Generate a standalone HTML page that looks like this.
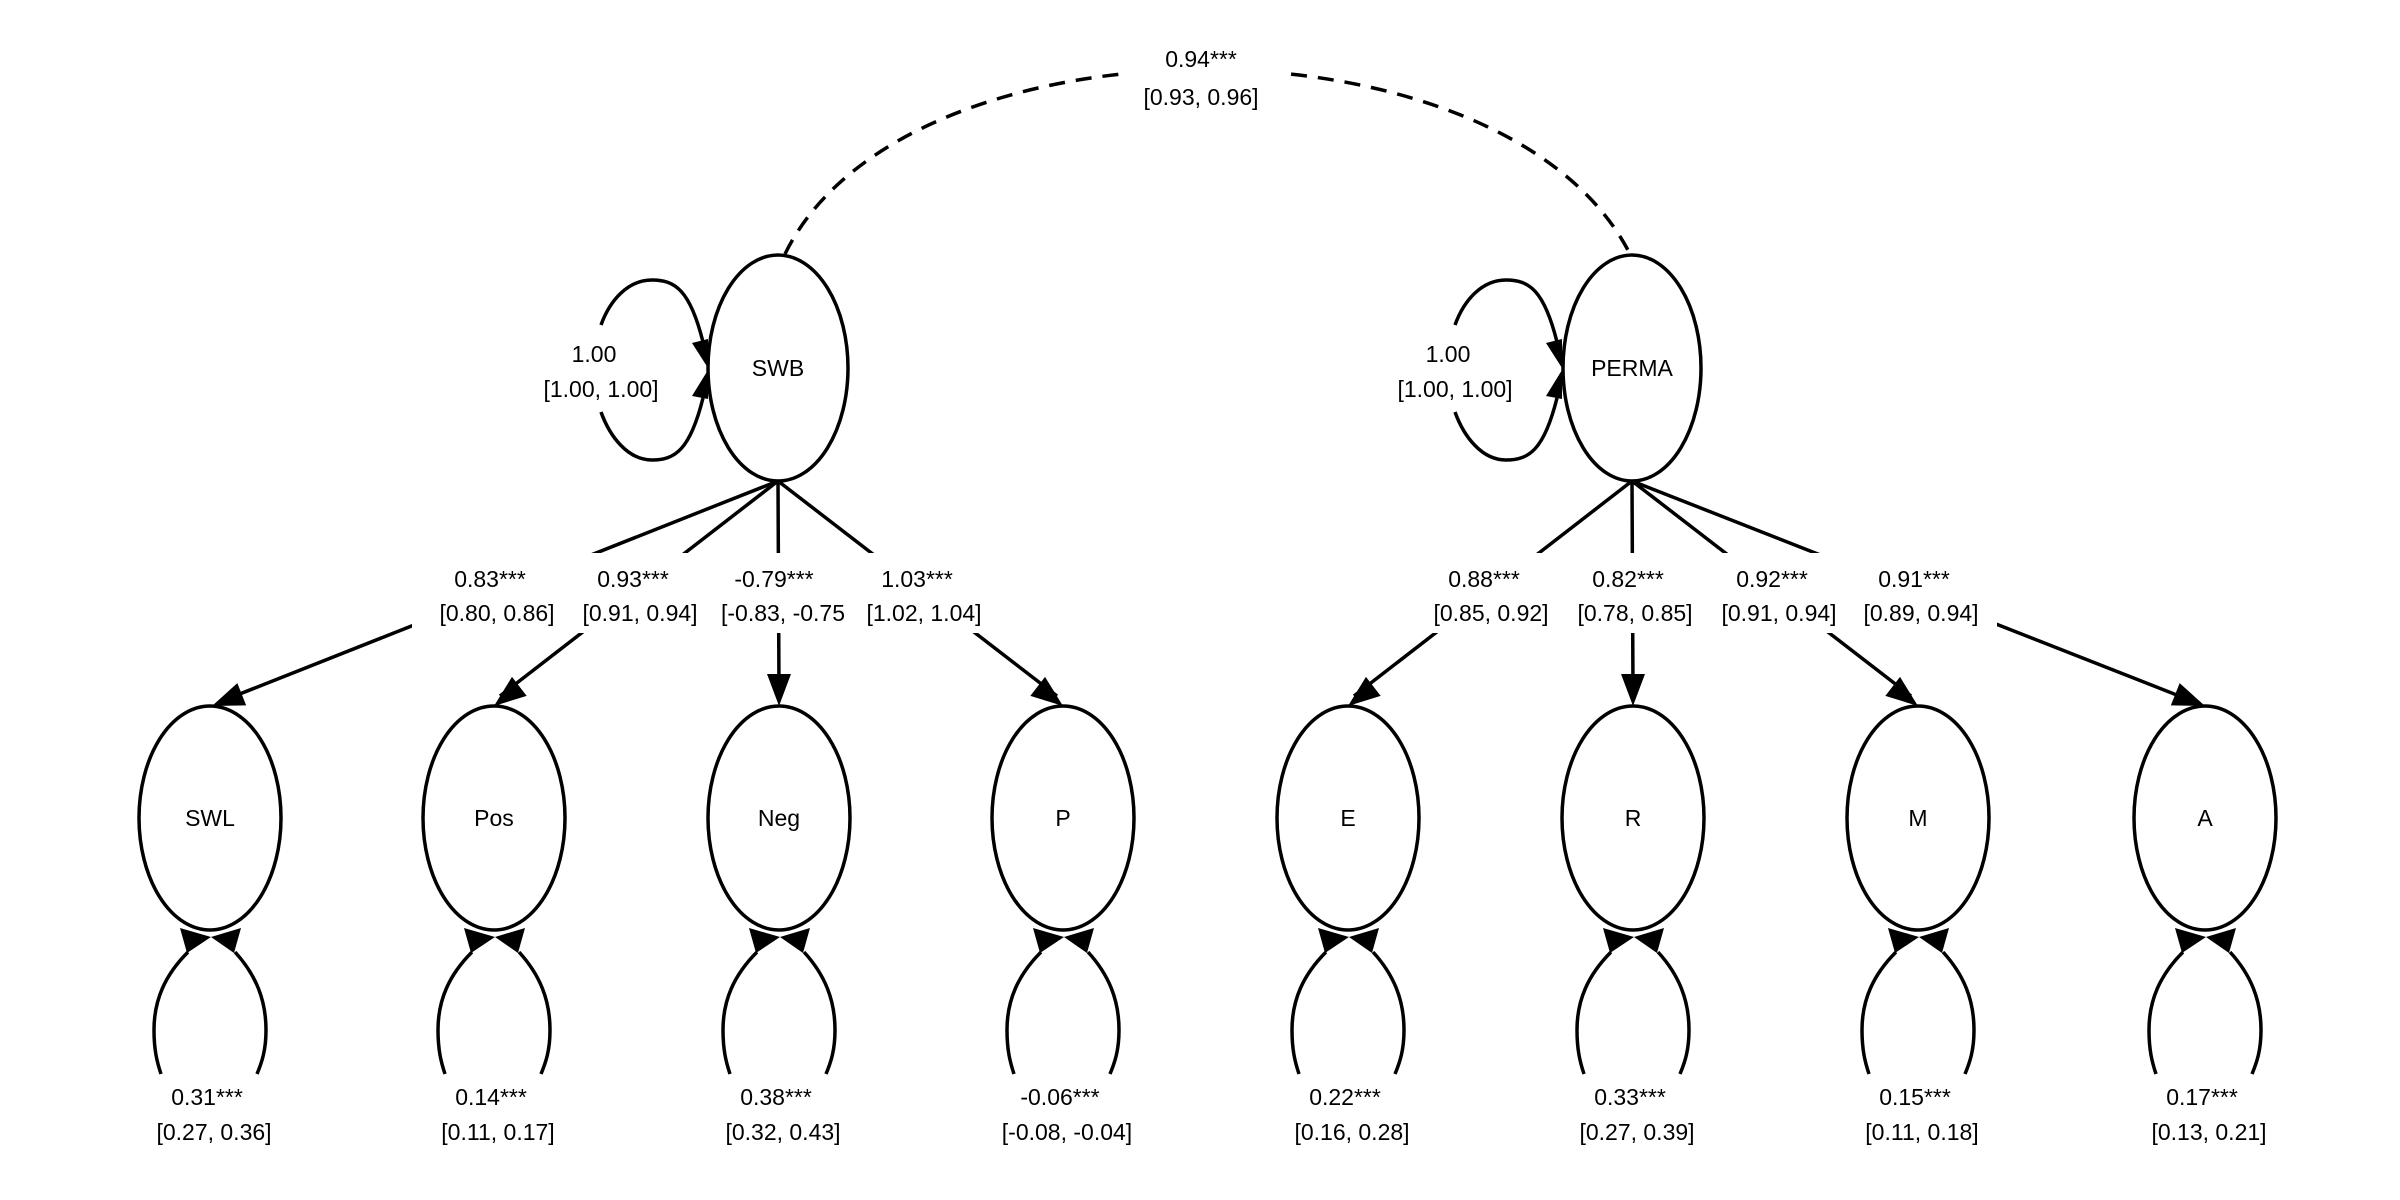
<!DOCTYPE html>
<html><head><meta charset="utf-8"><style>html,body{margin:0;padding:0;background:#fff}svg{display:block}</style></head>
<body>
<svg width="2400" height="1200" viewBox="0 0 2400 1200" xmlns="http://www.w3.org/2000/svg" font-family="Liberation Sans, Arial, sans-serif" font-size="23" text-anchor="middle">
<rect width="2400" height="1200" fill="#fff"/>
<g fill="none" stroke="#000" stroke-width="3.5">
<path d="M785,254 C905,8 1505,8 1630,254" stroke-dasharray="16,11"/>
<line x1="778" y1="481" x2="222" y2="701"/>
<line x1="778" y1="481" x2="500" y2="696"/>
<line x1="778" y1="481" x2="779" y2="690"/>
<line x1="778" y1="481" x2="1057" y2="696"/>
<line x1="1632" y1="481" x2="1354" y2="696"/>
<line x1="1632" y1="481" x2="1633" y2="690"/>
<line x1="1632" y1="481" x2="1911" y2="696"/>
<line x1="1632" y1="481" x2="2192" y2="701"/>
</g>
<rect x="412" y="553" width="585" height="80" fill="#fff"/>
<rect x="1405" y="553" width="592" height="80" fill="#fff"/>
<rect x="1128" y="28" width="154" height="88" fill="#fff"/>
<g fill="#000">
<polygon points="0,0 -12,-32 12,-32" transform="translate(212,706) rotate(68.4)"/>
<polygon points="0,0 -12,-32 12,-32" transform="translate(494,706) rotate(52.3)"/>
<polygon points="0,0 -12,-32 12,-32" transform="translate(779,706)"/>
<polygon points="0,0 -12,-32 12,-32" transform="translate(1063,706) rotate(-52.3)"/>
<polygon points="0,0 -12,-32 12,-32" transform="translate(1348,706) rotate(52.3)"/>
<polygon points="0,0 -12,-32 12,-32" transform="translate(1633,706)"/>
<polygon points="0,0 -12,-32 12,-32" transform="translate(1918,706) rotate(-52.3)"/>
<polygon points="0,0 -12,-32 12,-32" transform="translate(2205,706) rotate(-68.4)"/>
</g>
<g fill="#fff" stroke="#000" stroke-width="3.5">
<ellipse cx="778" cy="368" rx="70" ry="113"/>
<ellipse cx="1632" cy="368" rx="69" ry="113"/>
<ellipse cx="210" cy="818" rx="71" ry="112"/>
<ellipse cx="494" cy="818" rx="71" ry="112"/>
<ellipse cx="779" cy="818" rx="71" ry="112"/>
<ellipse cx="1063" cy="818" rx="71" ry="112"/>
<ellipse cx="1348" cy="818" rx="71" ry="112"/>
<ellipse cx="1633" cy="818" rx="71" ry="112"/>
<ellipse cx="1918" cy="818" rx="71" ry="112"/>
<ellipse cx="2205" cy="818" rx="71" ry="112"/>
</g>
<g id="ll">
<path d="M703,342 C690,290 675,280 652,280 C628,280 610,300 601,325 M601,412 C610,437 628,460 652,460 C675,460 690,450 703,398" fill="none" stroke="#000" stroke-width="3.5"/>
<polygon points="708,368 692,343 708,339" fill="#000"/>
<polygon points="708,370 692,396 708,399" fill="#000"/>
</g>
<use href="#ll" transform="translate(854,0)"/>
<defs>
<g id="rl">
<path d="M-22,952 C-45,975 -56,1000 -56,1030 C-56,1050 -53,1062 -49,1074 M25,952 C46,975 56,1000 56,1030 C56,1050 52,1062 47,1074" fill="none" stroke="#000" stroke-width="3.5"/>
<polygon points="1,937 -30,928 -23,953" fill="#000"/>
<polygon points="1,937 31,928 24,953" fill="#000"/>
</g>
</defs>
<use href="#rl" transform="translate(210,0)"/>
<use href="#rl" transform="translate(494,0)"/>
<use href="#rl" transform="translate(779,0)"/>
<use href="#rl" transform="translate(1063,0)"/>
<use href="#rl" transform="translate(1348,0)"/>
<use href="#rl" transform="translate(1633,0)"/>
<use href="#rl" transform="translate(1918,0)"/>
<use href="#rl" transform="translate(2205,0)"/>
<g fill="#000">
<text x="1201" y="67">0.94***</text><text x="1201" y="105">[0.93, 0.96]</text>
<text x="778" y="376">SWB</text><text x="1632" y="376">PERMA</text>
<text x="594" y="362">1.00</text><text x="601" y="397">[1.00, 1.00]</text>
<text x="1448" y="362">1.00</text><text x="1455" y="397">[1.00, 1.00]</text>
<text x="490" y="587">0.83***</text><text x="497" y="621">[0.80, 0.86]</text>
<text x="633" y="587">0.93***</text><text x="640" y="621">[0.91, 0.94]</text>
<text x="774" y="587">-0.79***</text><text x="783" y="621">[-0.83, -0.75</text>
<text x="917" y="587">1.03***</text><text x="924" y="621">[1.02, 1.04]</text>
<text x="1484" y="587">0.88***</text><text x="1491" y="621">[0.85, 0.92]</text>
<text x="1628" y="587">0.82***</text><text x="1635" y="621">[0.78, 0.85]</text>
<text x="1772" y="587">0.92***</text><text x="1779" y="621">[0.91, 0.94]</text>
<text x="1914" y="587">0.91***</text><text x="1921" y="621">[0.89, 0.94]</text>
<text x="210" y="826">SWL</text><text x="494" y="826">Pos</text><text x="779" y="826">Neg</text><text x="1063" y="826">P</text>
<text x="1348" y="826">E</text><text x="1633" y="826">R</text><text x="1918" y="826">M</text><text x="2205" y="826">A</text>
<text x="207" y="1105">0.31***</text><text x="214" y="1140">[0.27, 0.36]</text>
<text x="491" y="1105">0.14***</text><text x="498" y="1140">[0.11, 0.17]</text>
<text x="776" y="1105">0.38***</text><text x="783" y="1140">[0.32, 0.43]</text>
<text x="1060" y="1105">-0.06***</text><text x="1067" y="1140">[-0.08, -0.04]</text>
<text x="1345" y="1105">0.22***</text><text x="1352" y="1140">[0.16, 0.28]</text>
<text x="1630" y="1105">0.33***</text><text x="1637" y="1140">[0.27, 0.39]</text>
<text x="1915" y="1105">0.15***</text><text x="1922" y="1140">[0.11, 0.18]</text>
<text x="2202" y="1105">0.17***</text><text x="2209" y="1140">[0.13, 0.21]</text>
</g>
</svg>
</body></html>
